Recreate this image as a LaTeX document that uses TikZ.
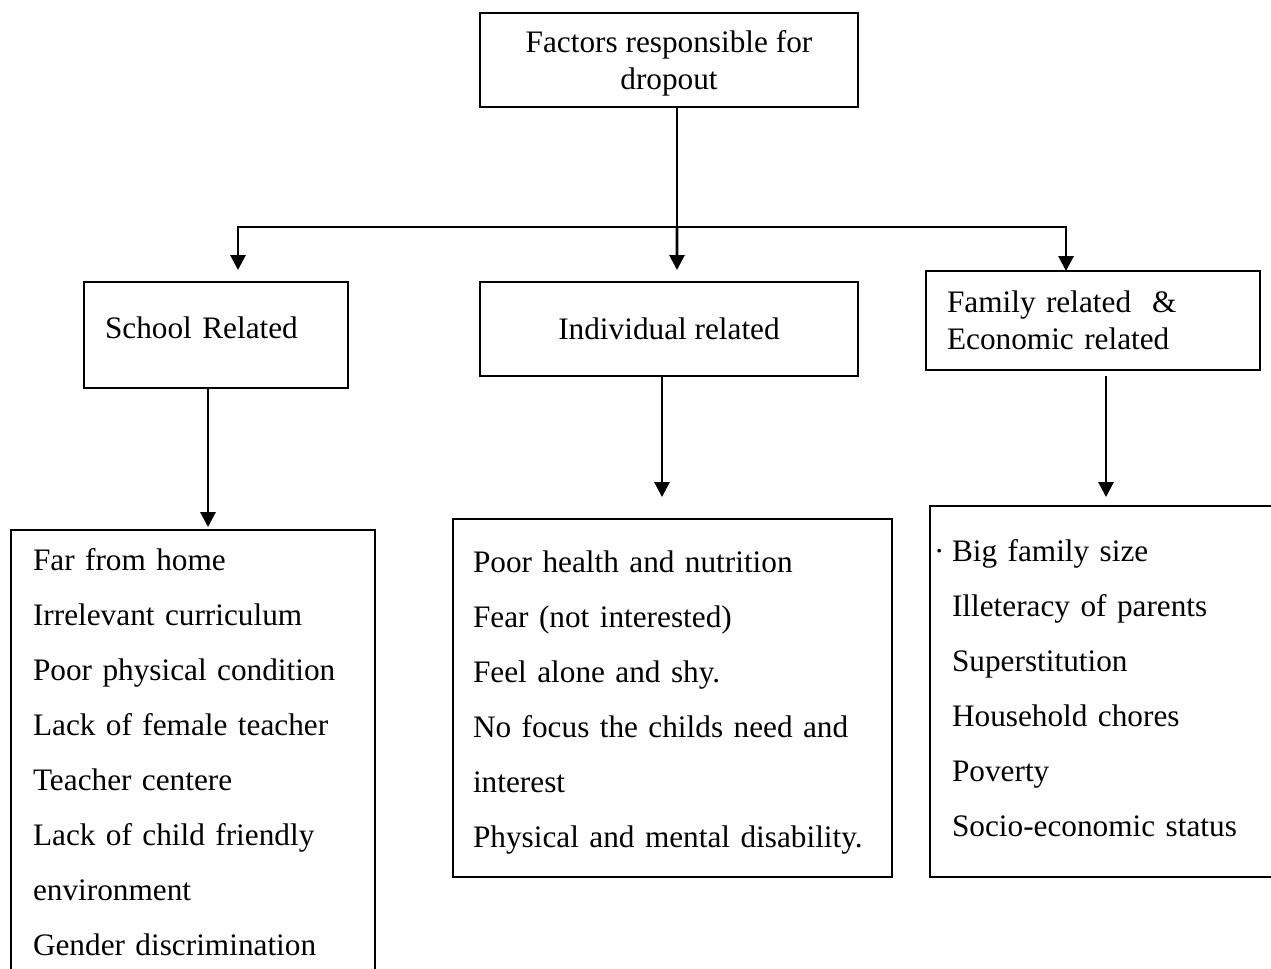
\documentclass[tikz,border=0pt]{standalone}
\usepackage{fontspec}
\setmainfont{Liberation Serif}
\usetikzlibrary{arrows.meta}

\tikzset{
  box/.style={draw, line width=1.1pt, inner sep=0pt, outer sep=0pt},
  head/.style={box, font=\fontsize{17.8pt}{21pt}\selectfont},
  list/.style={box, align=left, font=\fontsize{17.8pt}{31.3pt}\selectfont},
  link/.style={line width=1.6pt},
  arr/.style={link, -{Triangle[length=0.3cm, width=0.3cm]}}
}

\begin{document}
\begin{tikzpicture}[x=0.02cm, y=-0.02cm]
    \useasboundingbox (0,0) rectangle (1271,968);
    \clip (0,0) rectangle (1271,968);

    % Top
    \node[head, align=center, minimum width=7.56cm, minimum height=1.88cm] (dropout) at (669,60) {\rule{0pt}{0.59cm}Factors responsible for\\dropout};

    % Groups
    \node[head, minimum width=5.28cm, minimum height=2.12cm, text width=4.44cm, align=left, text height=0.43cm, text depth=0.31cm] (school) at (216,335) {School Related};
    \node[head, minimum width=7.56cm, minimum height=1.88cm] (indiv) at (669,329) {Individual related};
    \node[head, minimum width=6.68cm, minimum height=1.98cm, text width=5.84cm, align=left] (family) at (1093,320.5) {Family related~~\&\\Economic related};

    % Lists
    \node[list, minimum width=7.28cm, minimum height=8.9cm, text width=6.4cm] (schoollist) at (193,752.5) {Far from home\\Irrelevant curriculum\\Poor physical condition\\Lack of female teacher\\Teacher centere\\Lack of child friendly\\environment\\Gender discrimination};
    \node[list, minimum width=8.78cm, minimum height=7.16cm, text width=7.98cm] (indivlist) at (672.5,698) {\rule{0pt}{0.63cm}Poor health and nutrition\\Fear (not interested)\\Feel alone and shy.\\No focus the childs need and\\interest\\Physical and mental disability.};
    \node[list, minimum width=7.2cm, minimum height=7.42cm, text width=6.32cm] (familylist) at (1110,691.5) {\leavevmode\llap{·\hspace{0.15cm}}Big family size\\Illeteracy of parents\\Superstitution\\Household chores\\Poverty\\Socio-economic status\rule[-0.16cm]{0pt}{0pt}};

    % Arrows
    \coordinate (hub) at (677,227);
    \draw[link] (dropout.south -| hub) -- (hub);
    \draw[arr] (hub) -| ([xshift=0.44cm, yshift=0.24cm]school.north);
    \draw[arr] (hub) -- ([xshift=0.16cm, yshift=0.24cm]indiv.north);
    \draw[arr] (hub) -| ([xshift=-0.54cm]family.north);

    \draw[arr, shorten >=0.06cm] ([xshift=-0.16cm]school.south) -- ([xshift=-0.16cm]school.south |- schoollist.north);
    \draw[arr, shorten >=0.44cm] ([xshift=-0.14cm]indiv.south) -- ([xshift=-0.14cm]indiv.south |- indivlist.north);
    \draw[arr, shorten <=0.12cm, shorten >=0.18cm] ([xshift=0.26cm]family.south) -- ([xshift=0.26cm]family.south |- familylist.north);
\end{tikzpicture}
\end{document}
